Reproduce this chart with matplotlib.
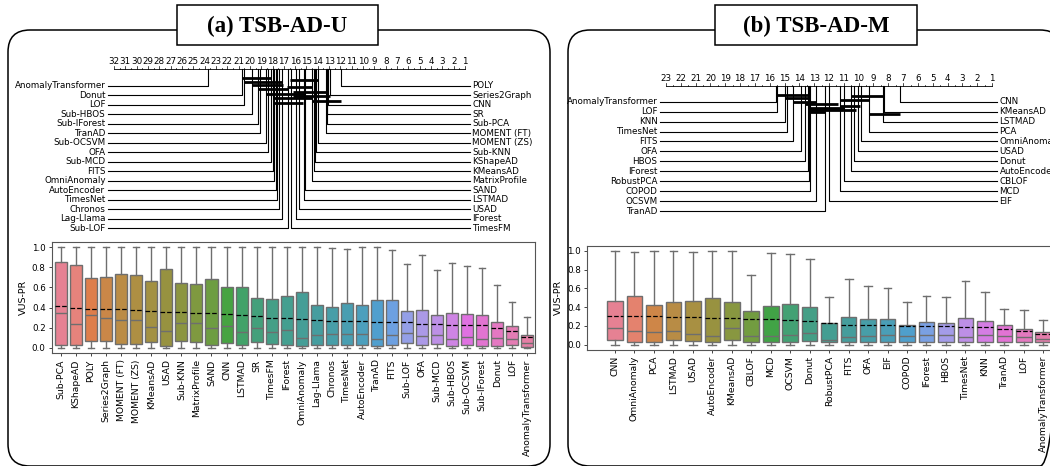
import numpy as np
import matplotlib
matplotlib.use('Agg')
import matplotlib.pyplot as plt
import seaborn as sns
from matplotlib.patches import FancyBboxPatch, Rectangle

W, H = 1050, 466

# ---------------- TSB-AD-U ----------------
u_methods = ['Sub-PCA', 'KShapeAD', 'POLY', 'Series2Graph', 'MOMENT (FT)', 'MOMENT (ZS)', 'KMeansAD',
             'USAD', 'Sub-KNN', 'MatrixProfile', 'SAND', 'CNN', 'LSTMAD', 'SR', 'TimesFM', 'IForest',
             'OmniAnomaly', 'Lag-Llama', 'Chronos', 'TimesNet', 'AutoEncoder', 'TranAD', 'FITS',
             'Sub-LOF', 'OFA', 'Sub-MCD', 'Sub-HBOS', 'Sub-OCSVM', 'Sub-IForest', 'Donut', 'LOF',
             'AnomalyTransformer']
u_q3 = [0.85, 0.82, 0.69, 0.70, 0.73, 0.72, 0.66, 0.78, 0.64, 0.63, 0.68, 0.60, 0.60, 0.50, 0.49, 0.51,
        0.55, 0.43, 0.41, 0.45, 0.43, 0.48, 0.48, 0.37, 0.38, 0.33, 0.35, 0.34, 0.33, 0.26, 0.22, 0.13]
u_q1 = [0.03, 0.03, 0.07, 0.07, 0.04, 0.04, 0.06, 0.015, 0.07, 0.06, 0.03, 0.05, 0.03, 0.06, 0.04, 0.025,
        0.015, 0.03, 0.03, 0.03, 0.025, 0.015, 0.03, 0.05, 0.03, 0.035, 0.02, 0.03, 0.02, 0.02, 0.03, 0.01]
u_med = [0.35, 0.24, 0.33, 0.30, 0.28, 0.28, 0.21, 0.17, 0.25, 0.25, 0.20, 0.22, 0.16, 0.20, 0.16, 0.18,
         0.10, 0.13, 0.14, 0.14, 0.14, 0.09, 0.13, 0.15, 0.12, 0.13, 0.09, 0.11, 0.09, 0.10, 0.09, 0.05]
u_mean = [0.42, 0.40, 0.39, 0.385, 0.385, 0.38, 0.37, 0.36, 0.355, 0.35, 0.345, 0.34, 0.325, 0.32, 0.30, 0.30,
          0.29, 0.275, 0.27, 0.265, 0.265, 0.26, 0.26, 0.255, 0.235, 0.235, 0.23, 0.225, 0.225, 0.20, 0.17, 0.11]
u_whishi = [1.0, 1.0, 1.0, 1.0, 1.0, 1.0, 1.0, 1.0, 1.0, 1.0, 1.0, 1.0, 1.0, 1.0, 1.0, 1.0,
            1.0, 1.0, 0.99, 0.98, 1.0, 1.0, 0.97, 0.83, 0.92, 0.77, 0.84, 0.81, 0.79, 0.62, 0.46, 0.31]
u_whislo = [0.0, 0.0, 0.0, 0.0, 0.0, 0.0, 0.0, 0.0, 0.0, 0.0, 0.0, 0.0, 0.0, 0.0, 0.0, 0.0,
            0.0, 0.0, 0.0, 0.0, 0.0, 0.0, 0.0, 0.0, 0.0, 0.0, 0.0, 0.0, 0.0, 0.0, 0.0, 0.0]

# critical difference (average ranks)
u_cd_left = ['AnomalyTransformer', 'Donut', 'LOF', 'Sub-HBOS', 'Sub-IForest', 'TranAD', 'Sub-OCSVM', 'OFA',
             'Sub-MCD', 'FITS', 'OmniAnomaly', 'AutoEncoder', 'TimesNet', 'Chronos', 'Lag-Llama', 'Sub-LOF']
u_cd_left_rank = [23.68, 20.67, 20.5, 19.8, 19.26, 19.1, 18.55, 18.4,
                  18.17, 18.0, 17.85, 17.73, 17.6, 17.46, 17.2, 16.6]
u_cd_right = ['POLY', 'Series2Graph', 'CNN', 'SR', 'Sub-PCA', 'MOMENT (FT)', 'MOMENT (ZS)', 'Sub-KNN',
              'KShapeAD', 'KMeansAD', 'MatrixProfile', 'SAND', 'LSTMAD', 'USAD', 'IForest', 'TimesFM']
u_cd_right_rank = [11.97, 12.94, 13.08, 13.15, 13.2, 13.3, 13.97, 14.17,
                   14.26, 14.3, 14.47, 15.14, 15.23, 15.64, 15.94, 16.38]
u_cliques = [(20.67, 18.17), (16.5, 13.97), (20.5, 17.2), (19.8, 17.1), (16.7, 14.5), (19.26, 16.6),
             (16.2, 13.08), (18.55, 15.14), (16.2, 12.94), (18.0, 14.47), (14.47, 11.97), (17.85, 15.3)]

# ---------------- TSB-AD-M ----------------
m_methods = ['CNN', 'OmniAnomaly', 'PCA', 'LSTMAD', 'USAD', 'AutoEncoder', 'KMeansAD', 'CBLOF', 'MCD',
             'OCSVM', 'Donut', 'RobustPCA', 'FITS', 'OFA', 'EIF', 'COPOD', 'IForest', 'HBOS', 'TimesNet',
             'KNN', 'TranAD', 'LOF', 'AnomalyTransformer']
m_q3 = [0.466, 0.52, 0.42, 0.46, 0.47, 0.50, 0.45, 0.36, 0.41, 0.435, 0.40, 0.235, 0.30, 0.27, 0.27,
        0.21, 0.24, 0.235, 0.29, 0.25, 0.21, 0.17, 0.135]
m_q1 = [0.053, 0.035, 0.035, 0.05, 0.04, 0.03, 0.05, 0.03, 0.03, 0.035, 0.04, 0.025, 0.03, 0.03, 0.035,
        0.03, 0.035, 0.03, 0.03, 0.035, 0.03, 0.03, 0.025]
m_med = [0.177, 0.15, 0.14, 0.15, 0.12, 0.095, 0.177, 0.09, 0.09, 0.10, 0.13, 0.055, 0.08, 0.09, 0.10,
         0.09, 0.10, 0.10, 0.08, 0.10, 0.09, 0.085, 0.06]
m_mean = [0.31, 0.31, 0.31, 0.30, 0.30, 0.29, 0.29, 0.275, 0.27, 0.26, 0.255, 0.235, 0.215, 0.21, 0.21,
          0.205, 0.205, 0.195, 0.19, 0.185, 0.17, 0.145, 0.12]
m_whishi = [1.0, 0.99, 1.0, 1.0, 0.99, 1.0, 1.0, 0.74, 0.98, 0.97, 0.91, 0.51, 0.70, 0.63, 0.60,
            0.46, 0.52, 0.51, 0.68, 0.56, 0.38, 0.37, 0.26]
m_whislo = [0.0, 0.0, 0.0, 0.0, 0.0, 0.0, 0.0, 0.0, 0.0, 0.0, 0.0, 0.0, 0.0, 0.0, 0.0,
            0.0, 0.0, 0.0, 0.0, 0.0, 0.0, 0.0, 0.0]

m_cd_left = ['AnomalyTransformer', 'LOF', 'KNN', 'TimesNet', 'FITS', 'OFA', 'HBOS', 'IForest',
             'RobustPCA', 'COPOD', 'OCSVM', 'TranAD']
m_cd_left_rank = [15.59, 15.48, 15.0, 14.85, 14.4, 13.9, 13.59, 13.43, 13.36, 13.3, 12.88, 12.24]
m_cd_right = ['CNN', 'KMeansAD', 'LSTMAD', 'PCA', 'OmniAnomaly', 'USAD', 'Donut', 'AutoEncoder',
              'CBLOF', 'MCD', 'EIF']
m_cd_right_rank = [7.24, 8.3, 8.35, 9.33, 9.82, 10.07, 10.34, 10.5, 11.02, 11.24, 12.0]
m_cliques = [(15.59, 13.4), (10.5, 8.3), (15.0, 13.3), (11.24, 9.33), (14.4, 12.88), (13.6, 11.4),
             (11.24, 9.9), (13.4, 11.0), (13.4, 10.2), (13.3, 12.24), (9.33, 7.24)]


fig = plt.figure(figsize=(W / 100, H / 100), dpi=100)


def rect(x0, y0, x1, y1):
    return [x0 / W, 1 - y1 / H, (x1 - x0) / W, (y1 - y0) / H]


# frame layer: rounded panels + title boxes (pixel coordinates)
bg = fig.add_axes([0, 0, 1, 1])
bg.set_xlim(0, W)
bg.set_ylim(H, 0)
bg.axis('off')
for x0, x1 in [(8, 550), (568, 1062)]:
    bg.add_patch(FancyBboxPatch((x0, 30), x1 - x0, 436, boxstyle='round,pad=0,rounding_size=22',
                                fc='none', ec='k', lw=1.1, clip_on=False))
for (x0, x1), title in zip([(177, 378), (715, 917)], ['(a) TSB-AD-U', '(b) TSB-AD-M']):
    bg.add_patch(Rectangle((x0, 5), x1 - x0, 40, fc='white', ec='k', lw=1.1, zorder=3))
    bg.text((x0 + x1) / 2, 26, title, ha='center', va='center', fontsize=16.5,
            family='Liberation Serif', weight='bold', zorder=4)


def draw_cd(ax, k, left, left_rank, right, right_rank, cliques, ppr, y_axis, c_y0, c_step):
    ax.axis('off')
    ax.plot([k, 1], [y_axis, y_axis], color='k', lw=0.6)
    for t in np.arange(1, k + 0.25, 0.5):
        h = 0.28 if t == int(t) else 0.14
        ax.plot([t, t], [y_axis, y_axis - h], color='k', lw=0.5)
    for t in range(1, k + 1):
        ax.text(t, y_axis - 0.35, str(t), ha='center', va='bottom', fontsize=6.3)
    line_l = k + 6 / ppr
    line_r = 1 - 5 / ppr
    for i, (name, r) in enumerate(zip(left, left_rank)):
        ax.plot([r, r, line_l], [y_axis, i, i], color='k', lw=0.8)
        ax.text(line_l + 2.5 / ppr, i, name, ha='right', va='center', fontsize=6.3)
    for i, (name, r) in enumerate(zip(right, right_rank)):
        ax.plot([r, r, line_r], [y_axis, i, i], color='k', lw=0.8)
        ax.text(line_r - 2.5 / ppr, i, name, ha='left', va='center', fontsize=6.3)
    for j, (lo, hi) in enumerate(cliques):
        y = c_y0 + j * c_step
        ax.plot([lo, hi], [y, y], color='k', lw=2.0, solid_capstyle='butt')


# CD axes (a): rank 32 at x=114px, rank 1 at x=465px; rows start at y=86px, step 9.47px
ppr_a = (465 - 114) / 31
cd_a = fig.add_axes(rect(10, 40, 530, 240))
cd_a.set_xlim(32 + (114 - 10) / ppr_a, 1 - (530 - 465) / ppr_a)
cd_a.set_ylim((240 - 86) / 9.47, (40 - 86) / 9.47)
draw_cd(cd_a, 32, u_cd_left, u_cd_left_rank, u_cd_right, u_cd_right_rank, u_cliques,
        ppr_a, -1.8, -0.85, 0.24)

# CD axes (b): rank 23 at x=666px, rank 1 at x=992px; rows start at y=101.7px, step 9.94px
ppr_b = (992 - 666) / 22
cd_b = fig.add_axes(rect(570, 40, 1050, 240))
cd_b.set_xlim(23 + (666 - 570) / ppr_b, 1 - (1050 - 992) / ppr_b)
cd_b.set_ylim((240 - 101.7) / 9.94, (40 - 101.7) / 9.94)
draw_cd(cd_b, 23, m_cd_left, m_cd_left_rank, m_cd_right, m_cd_right_rank, m_cliques,
        ppr_b, -1.58, -0.72, 0.196)


def draw_box(ax, names, q1, med, q3, mean, lo, hi):
    n = len(names)
    stats = [dict(label=names[i], q1=q1[i], med=med[i], q3=q3[i], mean=mean[i],
                  whislo=lo[i], whishi=hi[i], fliers=[]) for i in range(n)]
    pal = sns.color_palette('husl', n, desat=0.75)
    grey = '#6e6e6e'
    bp = ax.bxp(stats, positions=np.arange(n), widths=0.8, patch_artist=True,
                showmeans=True, meanline=True, showfliers=False, capwidths=0.4,
                boxprops=dict(ec=grey, lw=1.0),
                whiskerprops=dict(color=grey, lw=1.0),
                capprops=dict(color=grey, lw=1.0),
                medianprops=dict(color=grey, lw=1.0),
                meanprops=dict(color='k', ls='--', lw=0.9))
    for patch, c in zip(bp['boxes'], pal):
        patch.set_facecolor(c)
    ax.set_xticks(np.arange(n))
    ax.set_xticklabels(names, rotation=90, fontsize=6.7)
    ax.set_yticks([0, 0.2, 0.4, 0.6, 0.8, 1.0])
    ax.set_yticklabels(['0.0', '0.2', '0.4', '0.6', '0.8', '1.0'], fontsize=6.3)
    ax.set_ylim(-0.05, 1.05)
    ax.set_ylabel('VUS-PR', fontsize=6.8, labelpad=3)
    ax.tick_params(length=2.5, width=0.7, color='#444444', pad=2)
    for s in ax.spines.values():
        s.set_color('#555555')
        s.set_linewidth(0.8)


box_a = fig.add_axes(rect(52, 242, 535, 353))
draw_box(box_a, u_methods, u_q1, u_med, u_q3, u_mean, u_whislo, u_whishi)
box_a.set_xlim(-0.6, 31.5)

box_b = fig.add_axes(rect(587, 246, 1060, 349.5))
draw_box(box_b, m_methods, m_q1, m_med, m_q3, m_mean, m_whislo, m_whishi)
box_b.set_xlim(-1.44, 22.86)

fig.savefig('out.png', dpi=100)
